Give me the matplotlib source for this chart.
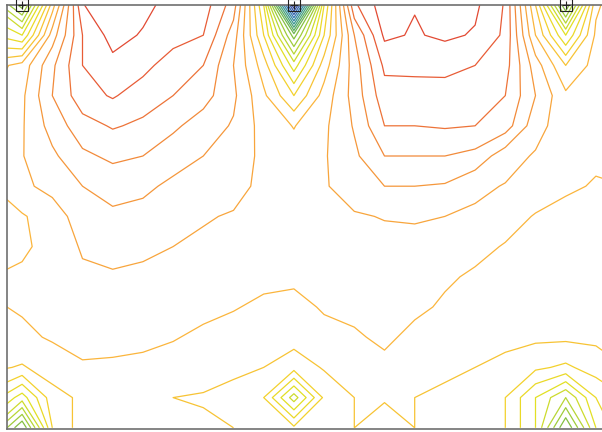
import numpy as np
import matplotlib
matplotlib.use("Agg")
import matplotlib.pyplot as plt
from matplotlib.colors import LinearSegmentedColormap, Normalize

# Grid node positions (model units, one unit = half a grid cell)
x_nodes = np.arange(-1, 42, 2)          # 22 columns
y_nodes = np.arange(0, 29, 2)           # 15 rows, 0 = top edge

# Field values, one row per y node (top to bottom)
field_rows = [
    [12.0, 15.5, 7.5, 1.05, 0.3, 0.7, 1.4, 1.5, 3.5, 10.0, 25.0, 10.0, 2.2, 0.4, 0.95, 0.7, 0.8, 2.1, 8.0, 16.0, 7.2, 6.0],
    [10.0, 11.0, 5.5, 2.0, 0.6, 1.1, 1.6, 2.0, 4.5, 9.0, 15.5, 9.0, 4.0, 0.8, 1.1, 0.8, 1.1, 2.2, 7.0, 11.0, 6.8, 6.3],
    [7.5, 6.6, 4.2, 2.0, 1.3, 1.7, 2.5, 3.0, 5.0, 7.5, 11.5, 7.5, 4.5, 1.8, 1.7, 1.8, 2.0, 2.6, 5.5, 8.0, 6.6, 6.3],
    [7.0, 6.2, 4.0, 2.4, 1.9, 2.5, 3.0, 3.6, 4.8, 6.8, 9.0, 6.6, 4.6, 2.4, 2.5, 2.3, 2.5, 3.0, 5.0, 6.8, 6.6, 6.4],
    [6.8, 6.1, 4.6, 3.4, 2.9, 3.2, 3.8, 4.5, 5.1, 6.4, 7.05, 6.2, 4.9, 3.0, 3.0, 2.9, 3.0, 3.5, 5.6, 6.6, 6.6, 6.5],
    [6.8, 6.05, 5.2, 4.2, 3.8, 4.0, 4.6, 5.0, 5.3, 6.3, 6.6, 6.1, 5.2, 4.0, 4.0, 4.0, 4.3, 5.6, 6.1, 6.7, 6.9, 6.8],
    [7.0, 6.2, 5.7, 5.0, 4.6, 4.8, 5.2, 5.4, 5.6, 6.3, 6.5, 6.1, 5.5, 5.0, 5.0, 5.1, 5.8, 6.05, 6.6, 6.9, 7.05, 7.0],
    [7.3, 7.1, 6.5, 5.5, 5.2, 5.3, 5.6, 5.9, 6.1, 6.4, 6.5, 6.3, 6.1, 5.95, 5.9, 6.0, 6.15, 6.7, 7.05, 7.2, 7.2, 7.2],
    [7.3, 7.2, 6.6, 5.9, 5.7, 5.8, 6.0, 6.2, 6.4, 6.5, 6.6, 6.5, 6.4, 6.3, 6.3, 6.4, 6.8, 7.05, 7.2, 7.3, 7.3, 7.3],
    [7.0, 6.8, 6.5, 6.15, 6.1, 6.2, 6.3, 6.5, 6.6, 6.8, 6.8, 6.6, 6.5, 6.5, 6.6, 6.9, 7.1, 7.3, 7.4, 7.4, 7.4, 7.4],
    [7.1, 6.9, 6.7, 6.6, 6.6, 6.6, 6.7, 6.8, 6.95, 7.15, 7.3, 6.9, 6.8, 6.7, 6.85, 7.1, 7.3, 7.5, 7.5, 7.6, 7.6, 7.6],
    [7.4, 7.2, 6.9, 6.7, 6.7, 6.8, 6.95, 7.15, 7.3, 7.5, 7.6, 7.3, 7.1, 6.85, 7.2, 7.4, 7.6, 7.7, 7.8, 7.8, 7.8, 7.8],
    [7.8, 8.1, 7.5, 7.1, 7.15, 7.2, 7.3, 7.5, 7.8, 8.0, 8.6, 7.9, 7.5, 7.2, 7.5, 7.8, 8.0, 8.3, 8.8, 9.2, 8.5, 8.0],
    [9.5, 11.5, 8.4, 7.8, 7.6, 7.7, 8.0, 8.1, 8.3, 9.0, 12.5, 8.8, 8.0, 7.9, 8.0, 8.2, 8.6, 9.0, 11.0, 13.0, 10.0, 9.0],
    [12.0, 16.0, 9.0, 7.5, 7.2, 7.4, 7.6, 7.8, 8.0, 8.5, 8.8, 8.5, 8.0, 8.5, 8.0, 8.2, 8.5, 9.0, 11.0, 16.0, 11.0, 9.0],
]

# Contour levels and the colour ramp used for them
levels = np.arange(1, 26, 1)
ramp_levels = [1, 2, 4, 6, 7, 9, 11, 13, 15, 17, 19, 21, 23, 25]
ramp_colors = ["#e24a33", "#e85d36", "#f28a3a", "#f8a53c", "#fbb53c", "#f3d12c",
               "#e2e024", "#b8d735", "#86c042", "#5aab62", "#3c9890", "#3578b4",
               "#3350a4", "#31368f"]

# Station markers along the top edge
station_x = [1, 19, 37]

Z = np.array(field_rows)
X, Y = np.meshgrid(x_nodes, y_nodes)

lo, hi = ramp_levels[0], ramp_levels[-1]
cmap = LinearSegmentedColormap.from_list(
    "ramp", [((v - lo) / (hi - lo), c) for v, c in zip(ramp_levels, ramp_colors)])

fig = plt.figure(figsize=(6.02, 4.32), dpi=100)
ax = fig.add_axes([7 / 602, 3 / 432, 596 / 602, 424 / 432])
ax.contour(X, Y, Z, levels=levels, cmap=cmap, norm=Normalize(lo, hi),
           linewidths=0.9)

ax.set_xlim(0, 596 / 15.1)
ax.set_ylim(424 / 15.1, 0)
ax.set_xticks([])
ax.set_yticks([])
for side, sp in ax.spines.items():
    sp.set_color("#707070")
    sp.set_linewidth(1.2)

ax.plot(station_x, [0] * len(station_x), linestyle="none", marker="s",
        markersize=9, markerfacecolor="none", markeredgecolor="#222222",
        markeredgewidth=0.8, clip_on=False, zorder=5)
ax.plot(station_x, [0] * len(station_x), linestyle="none", marker="+",
        markersize=6, color="#222222", markeredgewidth=0.8, clip_on=False,
        zorder=5)

fig.savefig("out.png", dpi=100)
